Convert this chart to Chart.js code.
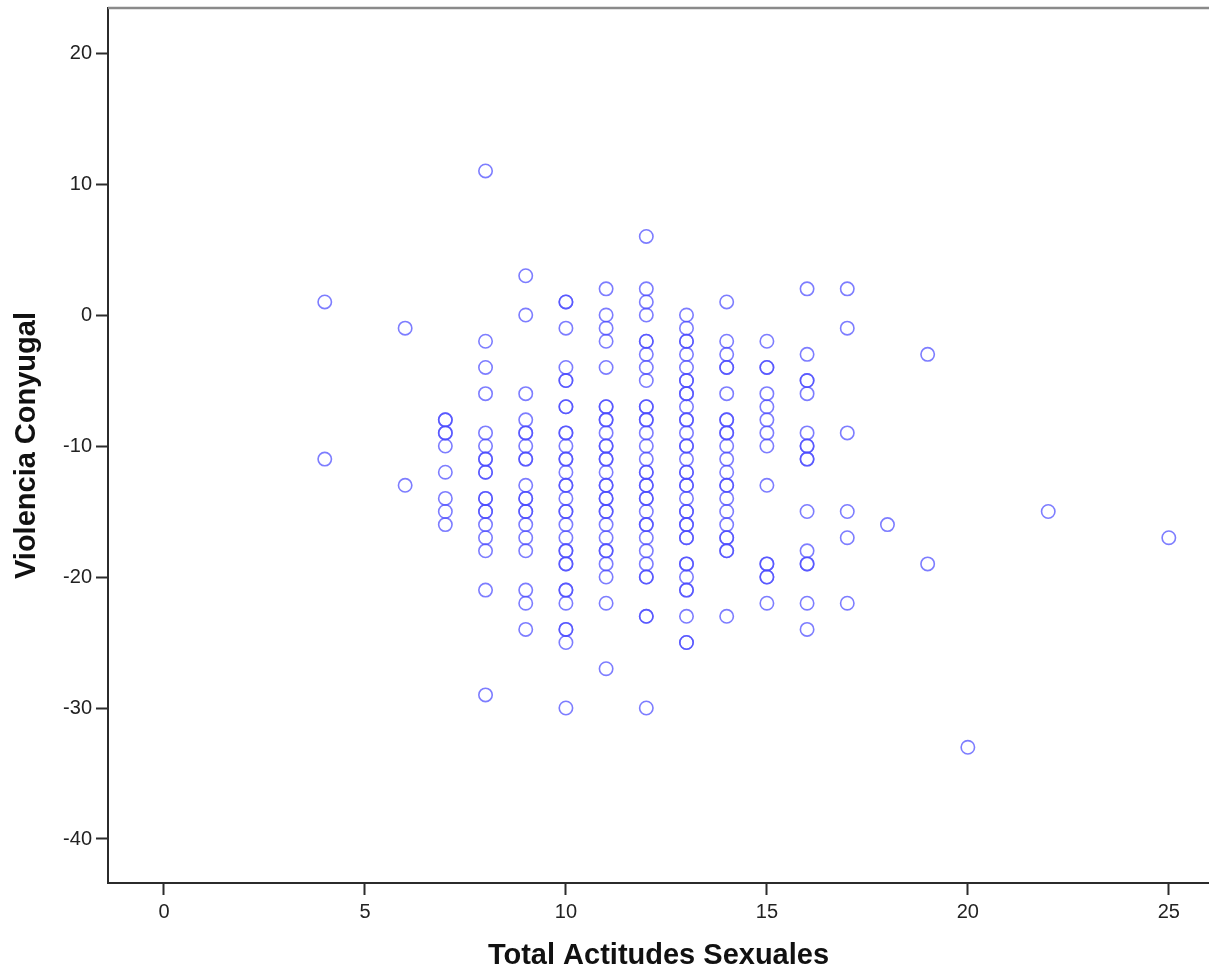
<!DOCTYPE html>
<html>
  <head>
    <meta charset="utf-8">
    <style>
      html, body { margin: 0; padding: 0; background: #ffffff; overflow: hidden; }
      #box { width: 1209px; height: 975px; position: relative; }
      #scatter { display: block; }
    </style>
  </head>
  <body>
    <div id="box"><canvas id="scatter"></canvas></div>

    <script src="https://cdn.jsdelivr.net/npm/chart.js"></script>
    <script>
      // Total Actitudes Sexuales (x) -> Violencia Conyugal values (y)
      const xValues = [4, 6, 7, 8, 9, 10, 11, 12, 13, 14, 15, 16, 17, 18, 19, 20, 22, 25];

      const yAt4 = [1, -11];
      const yAt6 = [-1, -13];
      const yAt7 = [-8, -8, -9, -9, -10, -12, -14, -15, -16];
      const yAt8 = [11, -2, -4, -6, -9, -10, -11, -11, -12, -12, -14, -14, -15, -15, -16, -17, -18, -21, -29];
      const yAt9 = [3, 0, -6, -8, -9, -9, -10, -11, -11, -13, -14, -14, -15, -15, -16, -17, -18, -21, -22, -24];
      const yAt10 = [1, 1, -1, -4, -5, -5, -7, -7, -9, -9, -10, -11, -11, -12, -13, -13, -14, -15, -15,
                     -16, -17, -18, -18, -19, -19, -21, -21, -22, -24, -24, -25, -30];
      const yAt11 = [2, 0, -1, -2, -4, -7, -7, -8, -8, -9, -10, -10, -11, -11, -12, -13, -13, -14, -14,
                     -15, -15, -16, -17, -18, -18, -19, -20, -22, -27];
      const yAt12 = [6, 2, 1, 0, -2, -2, -3, -4, -5, -7, -7, -8, -8, -9, -10, -11, -12, -12, -13, -13,
                     -14, -14, -15, -16, -16, -17, -18, -19, -20, -20, -23, -23, -30];
      const yAt13 = [0, -1, -2, -2, -3, -4, -5, -5, -6, -6, -7, -8, -8, -9, -10, -10, -11, -12, -12,
                     -13, -13, -14, -15, -15, -16, -16, -17, -17, -19, -19, -20, -21, -21, -23, -25, -25];
      const yAt14 = [1, -2, -3, -4, -4, -6, -8, -8, -9, -9, -10, -11, -12, -13, -13, -14, -15, -16,
                     -17, -17, -18, -18, -23];
      const yAt15 = [-2, -4, -4, -6, -7, -8, -9, -10, -13, -19, -19, -20, -20, -22];
      const yAt16 = [2, -3, -5, -5, -6, -9, -10, -10, -11, -11, -15, -18, -19, -19, -22, -24];
      const yAt17 = [2, -1, -9, -15, -17, -22];
      const yAt18 = [-16];
      const yAt19 = [-3, -19];
      const yAt20 = [-33];
      const yAt22 = [-15];
      const yAt25 = [-17];

      const yColumns = [yAt4, yAt6, yAt7, yAt8, yAt9, yAt10, yAt11, yAt12, yAt13, yAt14,
                        yAt15, yAt16, yAt17, yAt18, yAt19, yAt20, yAt22, yAt25];

      const xTicks = [0, 5, 10, 15, 20, 25];
      const yTicks = [-40, -30, -20, -10, 0, 10, 20];

      const points = [];
      xValues.forEach((x, i) => {
        yColumns[i].forEach(y => points.push({ x: x, y: y }));
      });

      const FONT = '"Liberation Sans", Arial, Helvetica, sans-serif';
      const AXIS = '#2b2b2b';

      // grey frame line along the top of the plot area
      const topFrame = {
        id: 'topFrame',
        afterDraw(chart) {
          const { ctx, chartArea } = chart;
          ctx.save();
          ctx.strokeStyle = '#8a8a8a';
          ctx.lineWidth = 2.5;
          ctx.beginPath();
          ctx.moveTo(chartArea.left, chartArea.top);
          ctx.lineTo(chartArea.right, chartArea.top);
          ctx.stroke();
          ctx.restore();
        }
      };

      new Chart(document.getElementById('scatter').getContext('2d'), {
        type: 'scatter',
        data: {
          datasets: [{
            label: 'Violencia Conyugal',
            data: points,
            pointStyle: 'circle',
            pointRadius: 6.7,
            pointBorderWidth: 1.6,
            pointBorderColor: 'rgba(75, 75, 255, 0.72)',
            pointBackgroundColor: 'rgba(0, 0, 0, 0)'
          }]
        },
        options: {
          responsive: true,
          maintainAspectRatio: false,
          animation: false,
          layout: { autoPadding: false, padding: { top: 8, right: 0, left: 0, bottom: 0 } },
          plugins: {
            legend: { display: false },
            tooltip: { enabled: false }
          },
          scales: {
            x: {
              type: 'linear',
              min: -1.393,
              max: 26.0,
              afterBuildTicks: (scale) => { scale.ticks = xTicks.map(v => ({ value: v })); },
              afterFit: (scale) => { scale.height = 92; scale.paddingLeft = 0; scale.paddingRight = 0; },
              grid: { drawOnChartArea: false, drawTicks: true, tickLength: 12, color: AXIS, tickWidth: 2 },
              border: { display: true, color: AXIS, width: 2 },
              ticks: { color: '#222', padding: 5, font: { family: FONT, size: 20 } },
              title: {
                display: true,
                text: 'Total Actitudes Sexuales',
                color: '#111',
                padding: { bottom: 2, top: 0 },
                font: { family: FONT, size: 29, weight: 'bold' }
              }
            },
            y: {
              type: 'linear',
              min: -43.36,
              max: 23.44,
              afterBuildTicks: (scale) => { scale.ticks = yTicks.map(v => ({ value: v })); },
              afterFit: (scale) => { scale.width = 108; scale.paddingTop = 0; scale.paddingBottom = 0; },
              grid: { drawOnChartArea: false, drawTicks: true, tickLength: 12, color: AXIS, tickWidth: 2 },
              border: { display: true, color: AXIS, width: 2 },
              ticks: { color: '#222', padding: 4, font: { family: FONT, size: 20 } },
              title: {
                display: true,
                text: 'Violencia Conyugal',
                color: '#111',
                padding: { top: 10, bottom: 0 },
                font: { family: FONT, size: 29, weight: 'bold' }
              }
            }
          }
        },
        plugins: [topFrame]
      });
    </script>
  </body>
</html>
